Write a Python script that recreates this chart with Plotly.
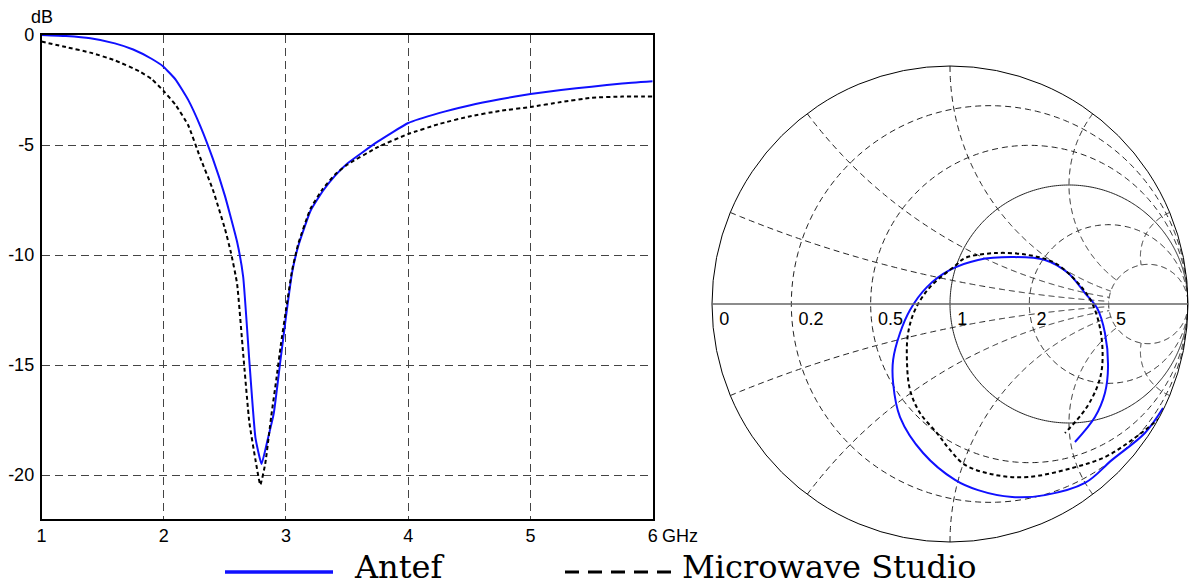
import numpy as np
import plotly.graph_objects as go

# ---------------- data: return loss (dB) vs frequency (GHz) ----------------
antef_f = [1.0, 1.2, 1.4, 1.6, 1.75, 1.9, 2.0, 2.1, 2.2, 2.3, 2.4, 2.5, 2.6, 2.65, 2.7,
           2.75, 2.8, 2.85, 2.9, 2.95, 3.0, 3.05, 3.1, 3.2, 3.3, 3.4, 3.5, 3.75, 4.0,
           4.25, 4.5, 4.75, 5.0, 5.25, 5.5, 5.75, 6.0]
antef_db = [0.0, -0.05, -0.15, -0.38, -0.66, -1.08, -1.45, -2.05, -2.95, -4.15, -5.6, -7.3, -9.4,
            -11.0, -14.8, -18.3, -19.5, -18.4, -17.2, -15.0, -12.8, -10.8, -9.6, -8.0, -7.1,
            -6.4, -5.85, -4.85, -4.0, -3.55, -3.2, -2.92, -2.68, -2.5, -2.35, -2.2, -2.1]

mws_f = [1.0, 1.2, 1.4, 1.6, 1.8, 1.9, 2.0, 2.1, 2.2, 2.3, 2.4, 2.5, 2.55, 2.6, 2.65, 2.7,
         2.75, 2.79, 2.83, 2.88, 2.92, 2.96, 3.0, 3.05, 3.1, 3.2, 3.3, 3.4, 3.5, 3.75, 4.0,
         4.25, 4.5, 4.75, 5.0, 5.25, 5.5, 5.75, 6.0]
mws_db = [-0.3, -0.55, -0.8, -1.15, -1.65, -2.0, -2.55, -3.2, -4.1, -5.6, -7.0, -8.8, -9.9,
          -11.3, -14.5, -17.6, -19.3, -20.45, -19.5, -17.3, -15.7, -14.0, -12.5, -10.7, -9.5,
          -7.9, -7.0, -6.35, -5.9, -5.1, -4.5, -4.05, -3.7, -3.45, -3.27, -3.05, -2.85, -2.8, -2.8]

x_ticks = [1, 2, 3, 4, 5, 6]
x_ticktext = ["1", "2", "3", "4", "5", "6"]
y_ticks = [0, -5, -10, -15, -20]
y_ticktext = ["0", "-5", "-10", "-15", "-20"]

# ---------------- data: reflection coefficient (Smith chart) ----------------
antef_gr = [0.895, 0.819, 0.681, 0.567, 0.399, 0.261, 0.118, 0.021, -0.113, -0.210, -0.239,
            -0.239, -0.210, -0.168, -0.097, 0.0, 0.118, 0.261, 0.399, 0.496, 0.567, 0.618,
            0.651, 0.664, 0.651, 0.609, 0.525]
antef_gi = [-0.437, -0.542, -0.655, -0.752, -0.803, -0.811, -0.782, -0.739, -0.626, -0.475,
            -0.332, -0.235, -0.122, -0.025, 0.071, 0.143, 0.185, 0.197, 0.185, 0.130, 0.046,
            -0.017, -0.122, -0.265, -0.374, -0.475, -0.580]

mws_gr = [0.882, 0.765, 0.651, 0.513, 0.328, 0.189, 0.063, 0.0, -0.055, -0.126, -0.168,
          -0.181, -0.176, -0.147, -0.084, 0.021, 0.063, 0.189, 0.328, 0.441, 0.538, 0.597,
          0.634, 0.639, 0.618, 0.567, 0.483]
mws_gi = [-0.479, -0.571, -0.643, -0.689, -0.727, -0.718, -0.676, -0.613, -0.542, -0.458,
          -0.361, -0.235, -0.122, -0.025, 0.071, 0.160, 0.193, 0.214, 0.206, 0.172, 0.088,
          0.004, -0.122, -0.265, -0.349, -0.445, -0.542]

smith_r_grid = [0.2, 0.5, 2, 5]       # dashed resistance circles
smith_r_solid = [1]                   # solid resistance circle
smith_x_grid = [0.2, 0.5, 1, 2, 5]    # reactance arcs (both signs)
smith_x_stop = 5                      # arcs drawn up to r = 5
smith_labels = ["0", "0.2", "0.5", "1", "2", "5"]
smith_label_r = [0, 0.2, 0.5, 1, 2, 5]


def to_z(gr, gi):
    g = np.array(gr) + 1j * np.array(gi)
    z = (1 + g) / (1 - g)
    return z.real, z.imag


BLUE = "#1010ff"
GRID_DASH = "6px,4px"
SANS = "Liberation Sans, Arial"
SERIF = "DejaVu Serif, Liberation Serif, serif"

fig = go.Figure()

# ---------------- left chart ----------------
fig.add_trace(go.Scatter(x=antef_f, y=antef_db, mode="lines",
                         line=dict(color=BLUE, width=2, shape="spline", smoothing=0.4),
                         name="Antef", showlegend=False, xaxis="x", yaxis="y"))
fig.add_trace(go.Scatter(x=mws_f, y=mws_db, mode="lines",
                         line=dict(color="black", width=2, dash="4px,3px", shape="spline",
                                   smoothing=0.4),
                         name="Microwave Studio", showlegend=False, xaxis="x", yaxis="y"))

# ---------------- Smith chart grid ----------------
imag_sweep = np.sinh(np.linspace(-9, 9, 1200))
for r in smith_r_grid:
    fig.add_trace(go.Scattersmith(real=np.full_like(imag_sweep, r), imag=imag_sweep, mode="lines",
                                  line=dict(color="#222", width=1, dash=GRID_DASH),
                                  hoverinfo="skip", showlegend=False, subplot="smith"))
for r in smith_r_solid:
    fig.add_trace(go.Scattersmith(real=np.full_like(imag_sweep, r), imag=imag_sweep, mode="lines",
                                  line=dict(color="#222", width=1),
                                  hoverinfo="skip", showlegend=False, subplot="smith"))
real_sweep = np.linspace(0, smith_x_stop, 400)
for xv in smith_x_grid:
    for s in (1, -1):
        fig.add_trace(go.Scattersmith(real=real_sweep, imag=np.full_like(real_sweep, s * xv),
                                      mode="lines",
                                      line=dict(color="#222", width=1, dash=GRID_DASH),
                                      hoverinfo="skip", showlegend=False, subplot="smith"))

# ---------------- Smith chart curves ----------------
ar, ai = to_z(antef_gr, antef_gi)
mr, mi = to_z(mws_gr, mws_gi)
fig.add_trace(go.Scattersmith(real=ar, imag=ai, mode="lines",
                              line=dict(color=BLUE, width=2, shape="spline"),
                              showlegend=False, subplot="smith"))
fig.add_trace(go.Scattersmith(real=mr, imag=mi, mode="lines",
                              line=dict(color="black", width=2, dash="4px,3px", shape="spline"),
                              showlegend=False, subplot="smith"))
fig.add_trace(go.Scattersmith(real=smith_label_r, imag=[0] * len(smith_label_r),
                              mode="markers+text", marker=dict(size=10, opacity=0),
                              text=smith_labels, textposition="bottom right",
                              textfont=dict(family=SANS, size=18, color="black"),
                              hoverinfo="skip", showlegend=False, subplot="smith"))

W, H = 1190, 588
fig.update_layout(
    width=W, height=H,
    margin=dict(l=0, r=0, t=0, b=0, autoexpand=False),
    paper_bgcolor="white", plot_bgcolor="white",
    font=dict(family=SANS, size=18, color="black"),
    xaxis=dict(domain=[41.5 / W, 652.7 / W], range=[1, 6], tickvals=x_ticks, ticktext=x_ticktext,
               showgrid=True, gridcolor="#444", griddash="8px,5px", gridwidth=1,
               showline=True, mirror=True, linecolor="black", linewidth=1.5, automargin=False,
               ticks="", zeroline=False, tickfont=dict(size=18)),
    yaxis=dict(domain=[1 - 519 / H, 1 - 35 / H], range=[-22, 0], tickvals=y_ticks,
               ticktext=y_ticktext, ticklabelstandoff=2,
               showgrid=True, gridcolor="#444", griddash="8px,5px", gridwidth=1,
               showline=True, mirror=True, linecolor="black", linewidth=1.5, automargin=False,
               ticks="", zeroline=False, tickfont=dict(size=18)),
    smith=dict(
        domain=dict(x=[712 / W, 1188 / W], y=[1 - 542 / H, 1 - 66 / H]),
        bgcolor="white",
        realaxis=dict(showgrid=False, showline=True, linecolor="#666", linewidth=1.5,
                      showticklabels=False, ticks=""),
        imaginaryaxis=dict(showgrid=False, showline=True, linecolor="black", linewidth=1,
                           showticklabels=False, ticks=""),
    ),
    annotations=[
        dict(text="dB", x=0, y=1, xref="x domain", yref="y domain", xanchor="center",
             yanchor="bottom", yshift=6, showarrow=False, font=dict(size=18)),
        dict(text="GHz", x=6, y=0, xref="x", yref="y domain", xanchor="left", yanchor="top",
             xshift=7, yshift=-5, showarrow=False, font=dict(size=18)),
        dict(text="Antef", x=352 / W, y=1 - 567 / H, xref="paper", yref="paper", xanchor="left",
             yanchor="middle", showarrow=False,
             font=dict(family=SERIF, size=32, color="black")),
        dict(text="Microwave Studio", x=680 / W, y=1 - 567 / H, xref="paper", yref="paper",
             xanchor="left", yanchor="middle", showarrow=False,
             font=dict(family=SERIF, size=32, color="black")),
    ],
    shapes=[
        dict(type="line", xref="paper", yref="paper", x0=225 / W, x1=333 / W,
             y0=1 - 572 / H, y1=1 - 572 / H, line=dict(color=BLUE, width=3.5)),
        dict(type="line", xref="paper", yref="paper", x0=565 / W, x1=678 / W,
             y0=1 - 572 / H, y1=1 - 572 / H, line=dict(color="black", width=3, dash="14px,9px")),
    ],
)

fig.write_html("out.html", config={"displayModeBar": False},
               post_script="document.body.style.margin='0';document.body.style.overflow='hidden';")
